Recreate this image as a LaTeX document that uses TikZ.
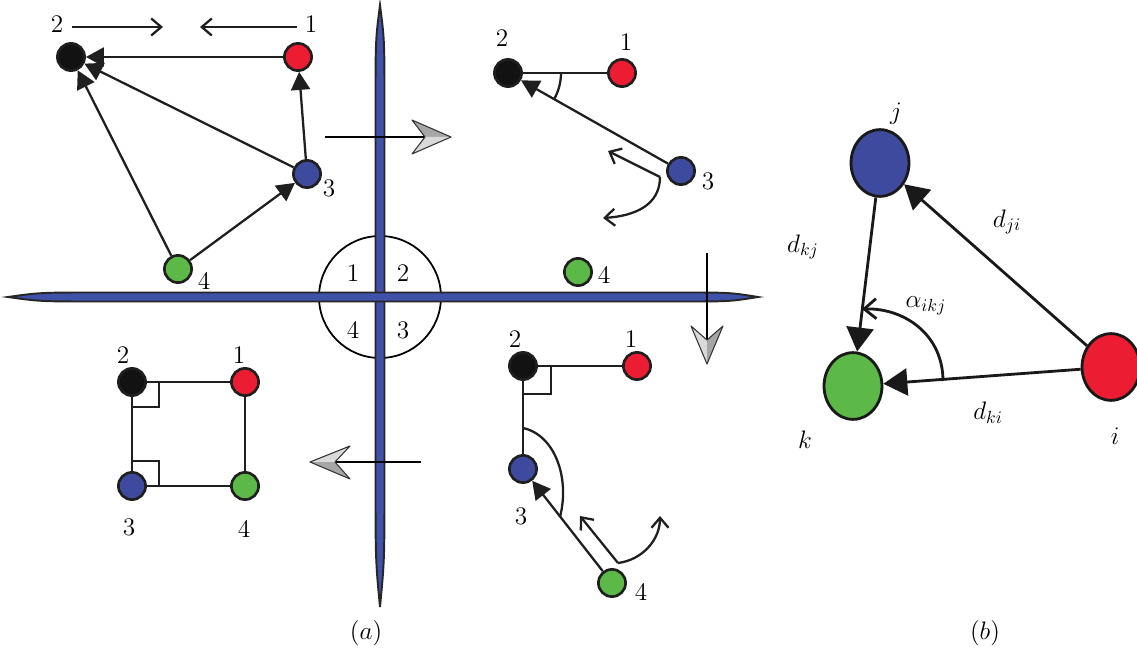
\documentclass[tikz,border=0pt]{standalone}
\usepackage{amsmath}
\usetikzlibrary{arrows.meta,shapes.geometric}
\definecolor{quadBlack}{HTML}{121212}
\definecolor{quadRed}{HTML}{EC1C32}
\definecolor{quadBlue}{HTML}{3D4A9E}
\definecolor{quadGreen}{HTML}{5DB947}
\definecolor{axisBlue}{HTML}{3F51A8}
\tikzset{
  agent/.style={
    circle,
    draw=black!88,
    line width=1.5pt,
    minimum size=15.5pt,
    inner sep=0pt
  },
  bigagent/.style={
    ellipse,
    draw=black!90,
    line width=1.6pt,
    minimum width=33pt,
    minimum height=38pt,
    inner sep=0pt
  },
  num/.style={font=\Large,inner sep=0pt},
  sym/.style={font=\Large,inner sep=0pt},
  link/.style={line width=1.3pt,draw=black!88},
  pull/.style={link,-{Triangle[length=3.6mm,width=3.8mm]}},
  bigpull/.style={line width=1.6pt,draw=black!90,-{Triangle[length=4.8mm,width=5.4mm]}},
  hint/.style={line width=1.3pt,draw=black!88,-{Straight Barb[length=2mm,width=3.4mm]}},
  axisbar/.style={fill=axisBlue,draw=black!85,line width=1.1pt},
  vaneLight/.style={fill=gray!30},
  vaneDark/.style={fill=gray!70},
  vaneEdge/.style={draw=black!80,line width=0.6pt,line join=round}
}

\begin{document}
\begin{tikzpicture}[x=0.02cm,y=-0.02cm]
  \useasboundingbox (0,0) rectangle (1137,652);

  % quadrant disc and axes
  \draw[line width=1pt] (380,297) circle[radius=1.22cm];
  \filldraw[axisbar] (380,5) .. controls (375.5,40) .. (375.5,110) -- (375.5,470)
    .. controls (375.5,560) .. (380,607) .. controls (384.5,560) .. (384.5,470)
    -- (384.5,110) .. controls (384.5,40) .. cycle;
  \filldraw[axisbar] (8,297) .. controls (40,292.5) .. (100,292.5) -- (680,292.5)
    .. controls (730,292.5) .. (758,297) .. controls (730,301.5) .. (680,301.5)
    -- (100,301.5) .. controls (40,301.5) .. cycle;
  \node[num] (q1) at (353,273) {1};
  \node[num] (q2) at (403,273) {2};
  \node[num] (q4) at (353,330) {4};
  \node[num] (q3) at (403,330) {3};

  % motion arrows between quadrants
  \draw[line width=1.3pt] (325,137) -- (425,137);
  \fill[vaneDark] (451,137) -- (412,120) -- (425,137) -- cycle;
  \fill[vaneLight] (451,137) -- (425,137) -- (412,154) -- cycle;
  \draw[vaneEdge] (451,137) -- (412,120) -- (425,137) -- (412,154) -- cycle;
  \draw[line width=1.3pt] (707,253) -- (707,340);
  \fill[vaneLight] (707,364) -- (691,326) -- (707,340) -- cycle;
  \fill[vaneDark] (707,364) -- (707,340) -- (723,326) -- cycle;
  \draw[vaneEdge] (707,364) -- (691,326) -- (707,340) -- (723,326) -- cycle;
  \draw[line width=1.3pt] (421,462) -- (335,462);
  \fill[vaneLight] (310,462) -- (350,446) -- (335,462) -- cycle;
  \fill[vaneDark] (310,462) -- (335,462) -- (350,479) -- cycle;
  \draw[vaneEdge] (310,462) -- (350,446) -- (335,462) -- (350,479) -- cycle;

  % quadrant 1
  \node[agent,fill=quadBlack] (tl2) at (71,57) {};
  \node[agent,fill=quadRed] (tl1) at (298,57) {};
  \node[agent,fill=quadBlue] (tl3) at (307,174) {};
  \node[agent,fill=quadGreen] (tl4) at (178,269) {};
  \node[num] (tl2lab) at (57,24) {2};
  \node[num] (tl1lab) at (311,24) {1};
  \node[num] (tl3lab) at (329,188) {3};
  \node[num] (tl4lab) at (204,281) {4};
  \coordinate (tlgoL) at (72,27);
  \coordinate (tlgoR) at (297,27);
  \draw[hint] (tlgoL) -- (163,27);
  \draw[hint] (tlgoR) -- (200,27);
  \draw[pull] (tl1) -- (tl2);
  \draw[pull] (tl3) -- (tl2);
  \draw[pull] (tl3) -- (tl1);
  \draw[pull] (tl4) -- (tl2);
  \draw[pull] (tl4) -- (tl3);

  % quadrant 2
  \node[agent,fill=quadBlack] (tr2) at (508,73) {};
  \node[agent,fill=quadRed] (tr1) at (622,73) {};
  \node[agent,fill=quadBlue] (tr3) at (681,171) {};
  \node[agent,fill=quadGreen] (tr4) at (578,272) {};
  \node[num] (tr2lab) at (502,38) {2};
  \node[num] (tr1lab) at (626,42) {1};
  \node[num] (tr3lab) at (708,181) {3};
  \node[num] (tr4lab) at (604,275) {4};
  \draw[link] (tr2) -- (tr1);
  \draw[pull] (tr3) -- (tr2);
  \draw[link] (tr2.center) ++(53,0) arc[start angle=0,end angle=30,radius=53];
  \coordinate (trturn) at (660,177);
  \draw[hint] (trturn) -- (608,151);
  \draw[hint] (trturn) .. controls (660,205) and (635,216) .. (603,218);

  % quadrant 4
  \node[agent,fill=quadBlack] (bl2) at (132,382) {};
  \node[agent,fill=quadRed] (bl1) at (245,382) {};
  \node[agent,fill=quadBlue] (bl3) at (132,486) {};
  \node[agent,fill=quadGreen] (bl4) at (245,486) {};
  \node[num] (bl2lab) at (123,355) {2};
  \node[num] (bl1lab) at (239,355) {1};
  \node[num] (bl3lab) at (129,527) {3};
  \node[num] (bl4lab) at (244,529) {4};
  \draw[link] (bl2) -- (bl1);
  \draw[link] (bl1) -- (bl4);
  \draw[link] (bl4) -- (bl3);
  \draw[link] (bl3) -- (bl2);
  \draw[link] (bl2.center) ++(27,0) -- ++(0,25) -- ++(-27,0);
  \draw[link] (bl3.center) ++(27,0) -- ++(0,-25) -- ++(-27,0);

  % quadrant 3
  \node[agent,fill=quadBlack] (br2) at (523,366) {};
  \node[agent,fill=quadRed] (br1) at (637,366) {};
  \node[agent,fill=quadBlue] (br3) at (523,469) {};
  \node[agent,fill=quadGreen] (br4) at (612,583) {};
  \node[num] (br2lab) at (515,339) {2};
  \node[num] (br1lab) at (631,339) {1};
  \node[num] (br3lab) at (521,516) {3};
  \node[num] (br4lab) at (641,592) {4};
  \draw[link] (br2) -- (br1);
  \draw[link] (br2) -- (br3);
  \draw[pull] (br4) -- (br3);
  \draw[link] (br2.center) ++(28,0) -- ++(0,28) -- ++(-28,0);
  \draw[link] (523,428) .. controls (555,435) and (570,478) .. (560,517);
  \coordinate (brturn) at (618,563);
  \draw[hint] (brturn) -- (580,516);
  \draw[hint] (brturn) .. controls (642,560) and (660,540) .. (660,516);

  \node[num] (capa) at (366,633) {$(a)$};

  % triangle i j k
  \node[bigagent,fill=quadBlue] (bj) at (880,163) {};
  \node[bigagent,fill=quadGreen] (bk) at (853,386) {};
  \node[bigagent,fill=quadRed] (bi) at (1111,367) {};
  \node[sym] (bjlab) at (896,114) {$j$};
  \node[sym] (bklab) at (805,440) {$k$};
  \node[sym] (bilab) at (1115,436) {$i$};
  \draw[bigpull] (bj) -- (bk);
  \draw[bigpull] (bi) -- (bj);
  \draw[bigpull] (bi) -- (bk);
  \node[sym] (dkj) at (803,247) {$d_{kj}$};
  \node[sym] (dji) at (1007,222) {$d_{ji}$};
  \node[sym] (dki) at (988,413) {$d_{ki}$};
  \node[sym] (alpha) at (926,306) {$\alpha_{ikj}$};
  \draw[line width=1.6pt,draw=black!90,-{Straight Barb[length=2.4mm,width=4mm]}]
    (943,381) .. controls (943,335) and (905,308) .. (862,309);

  \node[num] (capb) at (985,633) {$(b)$};
\end{tikzpicture}
\end{document}
